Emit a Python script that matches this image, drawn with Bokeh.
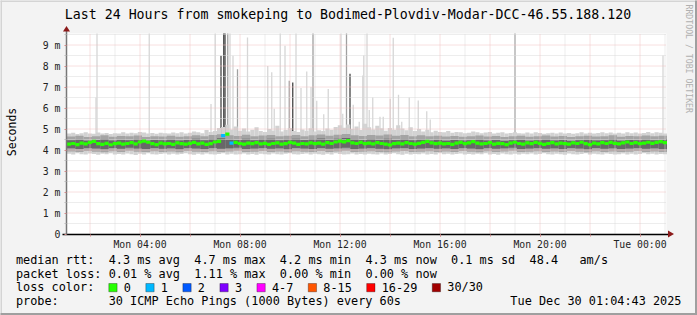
import math
from bokeh.plotting import figure
from bokeh.models import (Range1d, FixedTicker, Label, BoxAnnotation,
                          PolyAnnotation, LinearAxis)
from bokeh.embed import file_html
from bokeh.resources import INLINE

# ---------------- data ----------------
title_text = "Last 24 Hours from smokeping to Bodimed-Plovdiv-Modar-DCC-46.55.188.120"
y_label = "Seconds"
watermark = "RRDTOOL / TOBI OETIKER"
start_hour = 1 + 4 / 60 + 43 / 3600          # Mon 01:04:43 (hours since Mon 00:00)
span_hours = 24
x_tick_hours = [4, 8, 12, 16, 20, 24]
x_tick_labels = ["Mon 04:00", "Mon 08:00", "Mon 12:00", "Mon 16:00", "Mon 20:00", "Tue 00:00"]
x_major_grid_hours = [2, 4, 6, 8, 10, 12, 14, 16, 18, 20, 22, 24]
x_minor_grid_hours = [3, 5, 7, 9, 11, 13, 15, 17, 19, 21, 23, 25]
y_ticks = [0, 1, 2, 3, 4, 5, 6, 7, 8, 9]
y_tick_labels = ["0", "1 m", "2 m", "3 m", "4 m", "5 m", "6 m", "7 m", "8 m", "9 m"]
y_minor_ticks = [0.5, 1.5, 2.5, 3.5, 4.5, 5.5, 6.5, 7.5, 8.5, 9.5]

# median rtt (ms), 10-minute slots
median_ms = [
    4.28, 4.31, 4.26, 4.33, 4.29, 4.36, 4.41, 4.30, 4.27, 4.32, 4.25, 4.30,
    4.33, 4.28, 4.31, 4.35, 4.29, 4.38, 4.42, 4.37, 4.30, 4.26, 4.33, 4.29,
    4.31, 4.27, 4.34, 4.30, 4.28, 4.32, 4.36, 4.29, 4.33, 4.27, 4.30, 4.38,
    4.41, 4.68, 4.76, 4.33, 4.36, 4.31, 4.28, 4.33, 4.30, 4.35, 4.29, 4.32,
    4.27, 4.31, 4.34, 4.28, 4.30, 4.36, 4.33, 4.27, 4.31, 4.29, 4.34, 4.30,
    4.33, 4.28, 4.35, 4.31, 4.38, 4.42, 4.39, 4.45, 4.34, 4.31, 4.36, 4.30,
    4.33, 4.29, 4.35, 4.31, 4.28, 4.24, 4.30, 4.33, 4.29, 4.35, 4.31, 4.28,
    4.32, 4.36, 4.41, 4.34, 4.30, 4.33, 4.29, 4.31, 4.27, 4.33, 4.36, 4.30,
    4.34, 4.40, 4.33, 4.29, 4.31, 4.35, 4.28, 4.32, 4.30, 4.26, 4.33, 4.37,
    4.31, 4.28, 4.34, 4.30, 4.36, 4.32, 4.27, 4.31, 4.35, 4.29, 4.33, 4.30,
    4.28, 4.34, 4.31, 4.37, 4.30, 4.26, 4.33, 4.29, 4.35, 4.31, 4.36, 4.32,
    4.29, 4.34, 4.38, 4.31, 4.35, 4.30, 4.33, 4.37, 4.32, 4.36, 4.40, 4.35,
]
loss_slot_index = [37, 39]
loss_slot_class = [1, 1]

# smoke envelope (ms), 10-minute slots
smoke_max = [
    4.78, 4.82, 4.76, 4.80, 4.84, 4.79, 4.77, 4.83, 4.78, 4.81, 4.76, 4.80,
    4.79, 4.85, 4.78, 4.82, 4.80, 4.86, 4.83, 4.79, 4.81, 4.77, 4.82, 4.80,
    4.78, 4.83, 4.80, 4.85, 4.79, 4.82, 4.88, 4.84, 4.80, 4.95, 4.86, 4.90,
    5.05, 5.10, 5.20, 4.98, 5.12, 4.92, 5.02, 4.88, 4.96, 5.08, 4.90, 4.86,
    5.00, 4.92, 5.15, 4.88, 4.95, 5.05, 4.90, 4.86, 4.98, 4.92, 5.04, 4.88,
    4.94, 4.90, 5.02, 4.96, 5.10, 5.18, 5.06, 5.22, 5.00, 5.12, 4.95, 5.25,
    5.08, 4.98, 5.15, 5.04, 4.92, 5.05, 4.96, 5.18, 5.02, 4.94, 5.08, 4.90,
    5.00, 4.88, 4.96, 4.85, 4.92, 4.86, 4.84, 4.90, 4.82, 4.86, 4.84, 4.80,
    4.82, 4.88, 4.84, 4.80, 4.83, 4.86, 4.79, 4.82, 4.84, 4.78, 4.81, 4.85,
    4.80, 4.78, 4.83, 4.79, 4.84, 4.81, 4.77, 4.80, 4.82, 4.78, 4.83, 4.79,
    4.81, 4.77, 4.80, 4.84, 4.79, 4.82, 4.78, 4.81, 4.85, 4.80, 4.83, 4.79,
    4.82, 4.78, 4.84, 4.80, 4.83, 4.79, 4.81, 4.86, 4.80, 4.84, 4.82, 4.78,
]
smoke_min = [
    3.82, 3.79, 3.84, 3.80, 3.78, 3.83, 3.81, 3.77, 3.82, 3.80, 3.85, 3.79,
    3.81, 3.78, 3.83, 3.80, 3.76, 3.82, 3.79, 3.84, 3.80, 3.78, 3.81, 3.83,
    3.79, 3.82, 3.78, 3.81, 3.84, 3.80, 3.77, 3.82, 3.79, 3.83, 3.80, 3.78,
    3.81, 3.84, 3.79, 3.82, 3.78, 3.80, 3.83, 3.79, 3.81, 3.77, 3.82, 3.80,
    3.78, 3.83, 3.80, 3.79, 3.82, 3.85, 3.80, 3.78, 3.81, 3.83, 3.79, 3.82,
    3.80, 3.77, 3.82, 3.79, 3.84, 3.81, 3.78, 3.80, 3.83, 3.79, 3.81, 3.78,
    3.82, 3.80, 3.79, 3.83, 3.78, 3.81, 3.84, 3.80, 3.77, 3.82, 3.79, 3.81,
    3.80, 3.83, 3.78, 3.81, 3.79, 3.84, 3.80, 3.82, 3.78, 3.81, 3.83, 3.79,
    3.81, 3.78, 3.82, 3.80, 3.84, 3.79, 3.81, 3.77, 3.83, 3.80, 3.78, 3.82,
    3.79, 3.82, 3.80, 3.83, 3.78, 3.81, 3.84, 3.80, 3.79, 3.82, 3.80, 3.77,
    3.83, 3.80, 3.78, 3.81, 3.84, 3.79, 3.82, 3.80, 3.78, 3.83, 3.81, 3.79,
    3.80, 3.83, 3.79, 3.82, 3.78, 3.81, 3.84, 3.80, 3.82, 3.79, 3.81, 3.80,
]
# inner smoke bands (ms), 20-minute slots
smoke_hi = [
    4.64, 4.68, 4.62, 4.66, 4.70, 4.63, 4.67, 4.65, 4.69, 4.62, 4.66, 4.64,
    4.68, 4.63, 4.66, 4.70, 4.65, 4.72, 4.75, 4.70, 4.67, 4.73, 4.66, 4.69,
    4.71, 4.65, 4.68, 4.72, 4.66, 4.70, 4.74, 4.68, 4.73, 4.76, 4.70, 4.67,
    4.72, 4.69, 4.74, 4.68, 4.71, 4.66, 4.70, 4.65, 4.68, 4.64, 4.67, 4.63,
    4.66, 4.69, 4.64, 4.67, 4.62, 4.66, 4.68, 4.63, 4.65, 4.69, 4.64, 4.67,
    4.62, 4.65, 4.68, 4.64, 4.66, 4.70, 4.63, 4.67, 4.65, 4.69, 4.66, 4.68,
]
smoke_lo = [
    3.93, 3.90, 3.95, 3.92, 3.89, 3.94, 3.91, 3.96, 3.92, 3.90, 3.94, 3.91,
    3.93, 3.89, 3.95, 3.92, 3.90, 3.94, 3.91, 3.93, 3.96, 3.90, 3.92, 3.95,
    3.91, 3.93, 3.89, 3.94, 3.92, 3.90, 3.95, 3.91, 3.93, 3.96, 3.90, 3.92,
    3.94, 3.91, 3.89, 3.93, 3.95, 3.90, 3.92, 3.94, 3.91, 3.93, 3.90, 3.95,
    3.92, 3.89, 3.94, 3.91, 3.93, 3.96, 3.90, 3.92, 3.94, 3.91, 3.93, 3.90,
    3.95, 3.92, 3.89, 3.94, 3.91, 3.93, 3.90, 3.92, 3.95, 3.91, 3.93, 3.90,
]
core_hi = [
    4.46, 4.50, 4.44, 4.48, 4.52, 4.45, 4.49, 4.47, 4.51, 4.44, 4.48, 4.46,
    4.50, 4.45, 4.48, 4.53, 4.47, 4.52, 4.56, 4.50, 4.48, 4.54, 4.47, 4.51,
    4.53, 4.46, 4.50, 4.54, 4.48, 4.52, 4.55, 4.49, 4.53, 4.57, 4.51, 4.48,
    4.52, 4.49, 4.54, 4.48, 4.51, 4.46, 4.50, 4.45, 4.49, 4.44, 4.48, 4.45,
    4.47, 4.50, 4.45, 4.48, 4.43, 4.47, 4.49, 4.44, 4.46, 4.50, 4.45, 4.48,
    4.43, 4.46, 4.49, 4.45, 4.47, 4.51, 4.44, 4.48, 4.46, 4.50, 4.47, 4.49,
]
core_lo = [
    4.08, 4.05, 4.10, 4.07, 4.04, 4.09, 4.06, 4.11, 4.07, 4.05, 4.09, 4.06,
    4.08, 4.04, 4.10, 4.07, 4.05, 4.09, 4.06, 4.08, 4.11, 4.05, 4.07, 4.10,
    4.06, 4.08, 4.04, 4.09, 4.07, 4.05, 4.10, 4.06, 4.08, 4.11, 4.05, 4.07,
    4.09, 4.06, 4.04, 4.08, 4.10, 4.05, 4.07, 4.09, 4.06, 4.08, 4.05, 4.10,
    4.07, 4.04, 4.09, 4.06, 4.08, 4.11, 4.05, 4.07, 4.09, 4.06, 4.08, 4.05,
    4.10, 4.07, 4.04, 4.09, 4.06, 4.08, 4.05, 4.07, 4.10, 4.06, 4.08, 4.05,
]
# outlier pings (hour of day, rtt ms, shade 0 light / 1 mid / 2 dark)
spike_hours = [2.24, 2.28, 4.37, 6.84, 7.01, 7.24, 7.35, 7.40, 7.51, 7.60,
               7.72, 7.90, 8.30, 9.11, 9.27, 9.37, 9.61, 9.80, 9.97, 10.11,
               10.24, 10.44, 10.67, 10.84, 10.92, 11.07, 11.35, 11.53, 12.04, 12.11,
               12.26, 12.40, 12.53, 12.77, 12.91, 12.95, 13.08, 13.17, 13.31, 13.60,
               13.73, 14.01, 14.13, 14.34, 14.47, 14.77, 15.13, 15.47, 15.61, 19.00,
               24.92]
spike_top_ms = [6.5, 9.8, 9.8, 6.19, 9.8, 8.49, 9.8, 9.8, 9.8, 9.8,
                8.49, 7.85, 9.36, 8.0, 7.7, 5.96, 9.8, 8.97, 7.3, 7.22,
                9.8, 6.95, 7.74, 7.0, 9.8, 6.35, 5.7, 6.9, 9.8, 5.73,
                9.8, 7.63, 6.16, 5.35, 7.55, 8.5, 9.8, 5.9, 6.5, 5.58,
                5.58, 6.44, 9.35, 6.63, 5.35, 6.5, 6.36, 5.84, 5.45, 9.8,
                8.5]
spike_shade = [0, 0, 0, 0, 0, 2, 2, 2, 1, 0,
               0, 1, 0, 0, 0, 0, 0, 0, 1, 2,
               0, 0, 0, 0, 1, 0, 0, 0, 0, 0,
               1, 2, 0, 0, 0, 0, 0, 0, 0, 0,
               0, 0, 0, 0, 0, 0, 0, 0, 0, 1,
               0]

rtt_values = [4.3, 4.7, 4.2, 4.3, 0.1]
rtt_names = ["avg", "max", "min", "now", "sd"]
am_per_s = 48.4
loss_values = [0.01, 1.11, 0.00, 0.00]
loss_names = ["avg", "max", "min", "now"]
loss_labels = ["0", "1", "2", "3", "4-7", "8-15", "16-29", "30/30"]
loss_colors = ["#26ff00", "#00b8ff", "#0059ff", "#7e00ff", "#ff00ff", "#ff5500", "#ff0000", "#a10000"]
probe_text = "30 ICMP Echo Pings (1000 Bytes) every 60s"
timestamp = "Tue Dec 30 01:04:43 2025"

# ---------------- layout ----------------
W, H = 697, 315
FL, FR, FT, FB = 66, 666, 33, 233      # plot area in canvas pixels
PXH = 25.0                              # px per hour
PXM = 21.0                              # px per ms
ANCHOR_H, ANCHOR_PX = 2.0, 89.5         # 02:00 sits on pixel column 89.5
ZERO_PY = 233.5
MONO = "DejaVu Sans Mono"
end_hour = start_hour + span_hours


def X(px):
    return ANCHOR_H + (px - ANCHOR_PX) / PXH


def Y(py):
    return (ZERO_PY - py) / PXM


plot_top_ms = Y(FT)

# the frame covers the whole canvas; the rrdtool plot area is drawn inside it
p = figure(width=W, height=H, output_backend="svg", toolbar_location=None,
           x_range=Range1d(X(0), X(W)), y_range=Range1d(Y(H), Y(0)),
           x_axis_location=None, y_axis_location=None,
           min_border=0, min_border_left=0, min_border_right=0,
           min_border_top=0, min_border_bottom=0,
           background_fill_color="#f3f3f3", border_fill_color="#f3f3f3",
           outline_line_color=None)
p.title.visible = False
p.grid.visible = False

# plot area
p.add_layout(BoxAnnotation(left=X(FL), right=X(FR), bottom=Y(FB), top=Y(FT),
                           fill_color="white", fill_alpha=1, line_color=None,
                           level="underlay"))


def slot_edges(arr):
    n = len(arr)
    dt = span_hours / n
    return ([start_hour + i * dt for i in range(n)],
            [start_hour + (i + 1) * dt for i in range(n)])


# spikes (outlier pings)
shade_colors = ["#d6d6d6", "#a0a0a0", "#454545"]
order = sorted(range(len(spike_hours)), key=lambda i: spike_shade[i])
p.vbar(x=[spike_hours[i] for i in order], width=1.3 / PXH, bottom=4.5,
       top=[min(spike_top_ms[i], plot_top_ms) for i in order],
       color=[shade_colors[spike_shade[i]] for i in order], line_color=None)

# smoke layers
l, r = slot_edges(smoke_max)
p.quad(left=l, right=r, bottom=smoke_min, top=smoke_max, color="#d2d2d2", line_color=None)
l, r = slot_edges(smoke_hi)
p.quad(left=l, right=r, bottom=smoke_lo, top=smoke_hi, color="#a4a4a4", line_color=None)
l, r = slot_edges(core_hi)
p.quad(left=l, right=r, bottom=core_lo, top=core_hi, color="#686868", line_color=None)

# grid (drawn over the smoke, as rrdtool does)
grid_minor = "#dadada"
grid_major = "#f0c0c0"
x_left, x_right = X(FL), X(FR)
y_bot, y_top = Y(FB), plot_top_ms
p.segment(x0=x_minor_grid_hours, x1=x_minor_grid_hours, y0=y_bot, y1=y_top,
          line_color=grid_minor, line_dash="1 1", line_width=1)
p.segment(x0=x_left, x1=x_right, y0=y_minor_ticks, y1=y_minor_ticks,
          line_color=grid_minor, line_dash="1 1", line_width=1)
p.segment(x0=x_major_grid_hours, x1=x_major_grid_hours, y0=y_bot, y1=y_top,
          line_color=grid_major, line_dash="1 1", line_width=1)
p.segment(x0=x_left, x1=x_right, y0=y_ticks[1:], y1=y_ticks[1:],
          line_color=grid_major, line_dash="1 1", line_width=1)

# median line coloured by loss
l, r = slot_edges(median_ms)
mcolors = [loss_colors[0]] * len(median_ms)
for idx, cls in zip(loss_slot_index, loss_slot_class):
    if idx < len(mcolors):
        mcolors[idx] = loss_colors[cls]
half = 1.6 / PXM
p.quad(left=l, right=r, bottom=[m - half for m in median_ms],
       top=[m + half for m in median_ms], color=mcolors, line_color=None)

# axes at fixed positions inside the canvas-wide frame
ya = LinearAxis(fixed_location=X(FL), bounds=(0, Y(30)),
                ticker=FixedTicker(ticks=y_ticks, minor_ticks=y_minor_ticks))
ya.major_label_overrides = {t: s for t, s in zip(y_ticks, y_tick_labels)}
ya.major_label_text_font = MONO
ya.major_label_text_font_size = "9.8px"
ya.major_label_text_color = "#222222"
ya.major_label_standoff = 4
ya.axis_line_color = "#777777"
ya.axis_line_width = 1.5
ya.major_tick_in = 0
ya.major_tick_out = 2
ya.minor_tick_in = 0
ya.minor_tick_out = 2
ya.major_tick_line_color = "#d08a8a"
ya.minor_tick_line_color = "#bbbbbb"
p.add_layout(ya, "left")

xa = LinearAxis(fixed_location=0, bounds=(X(61.5), X(668)),
                ticker=FixedTicker(ticks=x_tick_hours, minor_ticks=x_major_grid_hours))
xa.major_label_overrides = {h: t for h, t in zip(x_tick_hours, x_tick_labels)}
xa.major_label_text_font = MONO
xa.major_label_text_font_size = "9.8px"
xa.major_label_text_color = "#222222"
xa.major_label_standoff = 3
xa.axis_line_color = "black"
xa.axis_line_width = 1.5
xa.major_tick_in = 0
xa.major_tick_out = 2
xa.minor_tick_in = 0
xa.minor_tick_out = 2
xa.major_tick_line_color = "#d08a8a"
xa.minor_tick_line_color = "#d08a8a"
p.add_layout(xa, "below")

# arrow heads
p.add_layout(PolyAnnotation(xs=[X(667.5), X(667.5), X(673.5)], ys=[Y(230), Y(237), Y(233.5)],
                            fill_color="#8b1a1a", fill_alpha=1, line_color=None))
p.add_layout(PolyAnnotation(xs=[X(62.5), X(69.5), X(66)], ys=[Y(31), Y(31), Y(25.5)],
                            fill_color="#8b1a1a", fill_alpha=1, line_color=None))

# image frame (3D border)
p.add_layout(BoxAnnotation(left=X(-5), right=X(W + 5), bottom=Y(1.5), top=Y(-5),
                           fill_color="#d4d4d4", fill_alpha=1, line_color=None))
p.add_layout(BoxAnnotation(left=X(-5), right=X(1.5), bottom=Y(H + 5), top=Y(-5),
                           fill_color="#d4d4d4", fill_alpha=1, line_color=None))
p.add_layout(BoxAnnotation(left=X(-5), right=X(W + 5), bottom=Y(H + 5), top=Y(312.5),
                           fill_color="#9f9f9f", fill_alpha=1, line_color=None))
p.add_layout(BoxAnnotation(left=X(694.5), right=X(W + 5), bottom=Y(H + 5), top=Y(-5),
                           fill_color="#9f9f9f", fill_alpha=1, line_color=None))


def text(px, py, s, size, align="left", angle=0.0, color="#000000", baseline="middle"):
    p.add_layout(Label(x=X(px), y=Y(py), text=s, text_font=MONO, text_font_size=size,
                       text_align=align, text_baseline=baseline, angle=angle,
                       text_color=color))


# title, axis label, watermark
text(347.5, 14, title_text, "13.25px", align="center")
text(11, 131.5, y_label, "11.5px", align="center", angle=math.pi / 2)
text(688.5, 4, watermark, "8.2px", align="left", angle=-math.pi / 2, color="#b0b0b0")

# legend rows
LF = "11.85px"
CW = 7.134
OX = 15.4
rows = [259.3, 273.0, 286.8, 300.4]


def col_x(c):
    return OX + c * CW


text(col_x(0), rows[0], "median rtt:", LF)
c = 13
for v, n in zip(rtt_values, rtt_names):
    s = f"{v:.1f} ms {n}"
    text(col_x(c), rows[0], s, LF)
    c += len(s) + 2
s = f"{am_per_s:.1f}"
text(col_x(c), rows[0], s, LF)
c += len(s) + 3
text(col_x(c), rows[0], "am/s", LF)

text(col_x(0), rows[1], "packet loss:", LF)
c = 13
for v, n in zip(loss_values, loss_names):
    s = f"{v:.2f} % {n}"
    text(col_x(c), rows[1], s, LF)
    c += len(s) + 2

text(col_x(0), rows[2], "loss color:", LF)
bx = 108.3
for lab, colr in zip(loss_labels, loss_colors):
    p.add_layout(BoxAnnotation(left=X(bx), right=X(bx + 8.3), top=Y(283.0), bottom=Y(291.3),
                               fill_color=colr, fill_alpha=1, line_color="black", line_width=1))
    text(bx + 15.0, rows[2], lab, LF)
    bx += 8.5 + CW * (len(lab) + 3)

text(col_x(0), rows[3], "probe:", LF)
text(col_x(13), rows[3], probe_text, LF)
text(681, rows[3], timestamp, LF, align="right")

open("out.html", "w").write(file_html(p, INLINE))
